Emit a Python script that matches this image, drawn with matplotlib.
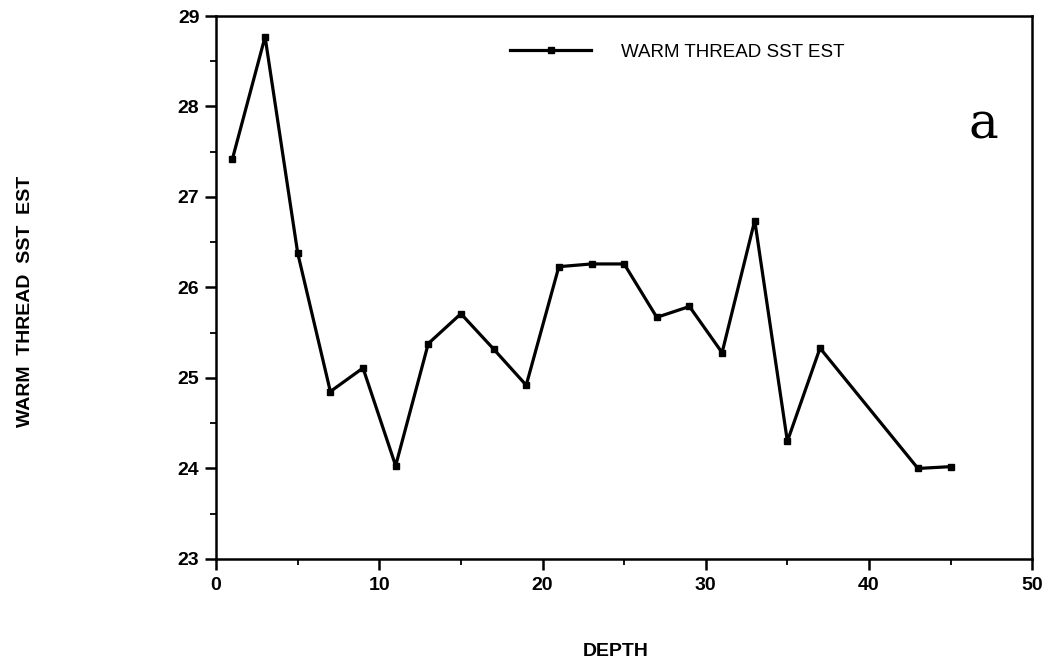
import matplotlib
matplotlib.use("Agg")
import matplotlib.pyplot as plt
from matplotlib.ticker import MultipleLocator

depth = [1, 3, 5, 7, 9, 11, 13, 15, 17, 19, 21, 23, 25, 27, 29, 31, 33, 35, 37, 43, 45]
sst = [27.42, 28.77, 26.38, 24.85, 25.11, 24.03, 25.38, 25.71, 25.32, 24.92,
       26.23, 26.26, 26.26, 25.67, 25.79, 25.28, 26.74, 24.30, 25.33, 24.00, 24.02]
series_label = "WARM THREAD SST EST"
x_label = "DEPTH"
y_label = "WARM  THREAD  SST  EST"
panel_tag = "a"

plt.rcParams['font.family'] = ['Liberation Sans', 'DejaVu Sans']

fig = plt.figure(figsize=(10.49, 6.67), dpi=100)
ax = fig.add_axes([0.206, 0.162, 0.778, 0.814])

ax.plot(depth, sst, color='black', lw=2.3, marker='s', ms=5, label=series_label)

ax.set_xlim(0, 50)
ax.set_ylim(23, 29)
ax.xaxis.set_major_locator(MultipleLocator(10))
ax.xaxis.set_minor_locator(MultipleLocator(5))
ax.yaxis.set_major_locator(MultipleLocator(1))
ax.yaxis.set_minor_locator(MultipleLocator(0.5))
ax.tick_params(which='major', direction='out', length=8, width=1.8, labelsize=14)
ax.tick_params(which='minor', direction='out', length=4, width=1.3)
ax.tick_params(axis='x', pad=5)
ax.tick_params(axis='y', pad=4)
for lab in ax.get_xticklabels() + ax.get_yticklabels():
    lab.set_fontweight('bold')
for s in ax.spines.values():
    s.set_linewidth(1.8)

fig.text(616 / 1049, 1 - 651 / 667, x_label, fontsize=14, fontweight='bold',
         ha='center', va='center')
fig.text(26 / 1049, 1 - 301 / 667, y_label, fontsize=14, fontweight='bold',
         rotation=90, ha='center', va='center')

leg = ax.legend(loc='upper left', bbox_to_anchor=(0.34, 0.98), frameon=False,
                fontsize=13.5, handlelength=4.3, handletextpad=1.6)

ax.text(0.94, 0.80, panel_tag, transform=ax.transAxes, fontsize=36,
        family=['DejaVu Serif'], ha='center', va='center')

fig.savefig("out.png", dpi=100)
